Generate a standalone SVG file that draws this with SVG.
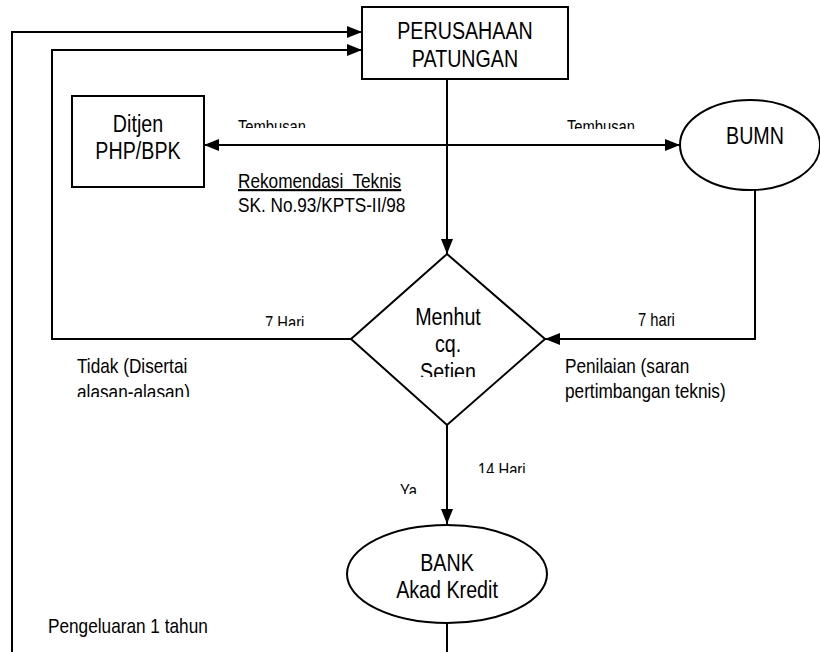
<svg xmlns="http://www.w3.org/2000/svg" width="820" height="652" viewBox="0 0 820 652">
<style>
.shape{fill:#fff;stroke:#000;stroke-width:2}
.line{fill:none;stroke:#000;stroke-width:2}
text{font-family:"Liberation Sans",Arial,sans-serif;fill:#000;white-space:pre}
.node{font-size:24px;text-anchor:middle}
.lab{font-size:21px}
.small{font-size:18px}
</style>
<defs>
<marker id="arr" markerUnits="userSpaceOnUse" markerWidth="16" markerHeight="12" refX="15" refY="6" orient="auto-start-reverse">
<path d="M0,0 L15,6 L0,12 z" fill="#000"/>
</marker>
<clipPath id="clipTL"><rect x="220" y="110" width="130" height="18"/></clipPath>
<clipPath id="clipTR"><rect x="550" y="110" width="100" height="19"/></clipPath>
<clipPath id="clip7L"><rect x="250" y="305" width="80" height="21"/></clipPath>
<clipPath id="clipAl"><rect x="60" y="376" width="180" height="21"/></clipPath>
<clipPath id="clipSet"><rect x="400" y="355" width="100" height="22"/></clipPath>
<clipPath id="clip14"><rect x="470" y="452" width="70" height="21"/></clipPath>
<clipPath id="clipYa"><rect x="390" y="475" width="40" height="19"/></clipPath>
</defs>
<g id="connectors">
<path class="line" d="M447,623 L447,670 L12,670 L12,32 L362,32" marker-end="url(#arr)"/>
<path class="line" d="M351,339 L52,339 L52,50 L362,50" marker-end="url(#arr)"/>
<path class="line" d="M447,79 L447,254" marker-end="url(#arr)"/>
<path class="line" d="M204,145 L680,145" marker-start="url(#arr)" marker-end="url(#arr)"/>
<path class="line" d="M755,190 L755,339 L545,339" marker-end="url(#arr)"/>
<path class="line" d="M447,425 L447,524" marker-end="url(#arr)"/>
</g>
<g id="perusahaan">
<rect class="shape" x="362" y="7" width="206" height="72"/>
<text class="node" transform="translate(465,39) scale(0.82,1)">PERUSAHAAN</text>
<text class="node" transform="translate(465,67) scale(0.82,1)">PATUNGAN</text>
</g>
<g id="ditjen">
<rect class="shape" x="72" y="96" width="132" height="91"/>
<text class="node" transform="translate(138,132) scale(0.82,1)">Ditjen</text>
<text class="node" transform="translate(138,159) scale(0.82,1)">PHP/BPK</text>
</g>
<g id="bumn">
<ellipse class="shape" cx="750" cy="145" rx="70" ry="45"/>
<text class="node" transform="translate(755,144) scale(0.82,1)">BUMN</text>
</g>
<g id="menhut">
<path class="shape" d="M447,254 L545,339 L447,425 L351,339 z"/>
<text class="node" transform="translate(448,325) scale(0.82,1)">Menhut</text>
<text class="node" transform="translate(448,352) scale(0.82,1)">cq.</text>
<g clip-path="url(#clipSet)"><text class="node" transform="translate(448,380) scale(0.82,1)">Setjen</text></g>
</g>
<g id="bank">
<ellipse class="shape" cx="447" cy="574" rx="100" ry="49"/>
<text class="node" transform="translate(447,571) scale(0.82,1)">BANK</text>
<text class="node" transform="translate(447,598) scale(0.82,1)">Akad Kredit</text>
</g>
<g id="labels">
<g clip-path="url(#clipTL)"><text class="small" transform="translate(238,133) scale(0.82,1)">Tembusan</text></g>
<g clip-path="url(#clipTR)"><text class="small" transform="translate(567,133) scale(0.82,1)">Tembusan</text></g>
<text class="lab" transform="translate(238,188) scale(0.82,1)" text-decoration="underline">Rekomendasi  Teknis</text>
<text class="lab" transform="translate(238,212) scale(0.82,1)">SK. No.93/KPTS-II/98</text>
<g clip-path="url(#clip7L)"><text class="small" transform="translate(265,329) scale(0.82,1)">7 Hari</text></g>
<text class="small" transform="translate(638,326) scale(0.82,1)">7 hari</text>
<text class="lab" transform="translate(77,373) scale(0.82,1)">Tidak (Disertai</text>
<g clip-path="url(#clipAl)"><text class="lab" transform="translate(77,399) scale(0.82,1)">alasan-alasan)</text></g>
<text class="lab" transform="translate(565,373) scale(0.82,1)">Penilaian (saran</text>
<text class="lab" transform="translate(565,398) scale(0.82,1)">pertimbangan teknis)</text>
<g clip-path="url(#clip14)"><text class="small" transform="translate(478,476) scale(0.82,1)">14 Hari</text></g>
<g clip-path="url(#clipYa)"><text class="small" transform="translate(400,497) scale(0.82,1)">Ya</text></g>
<text class="lab" transform="translate(48,633) scale(0.82,1)">Pengeluaran 1 tahun</text>
</g>
</svg>
